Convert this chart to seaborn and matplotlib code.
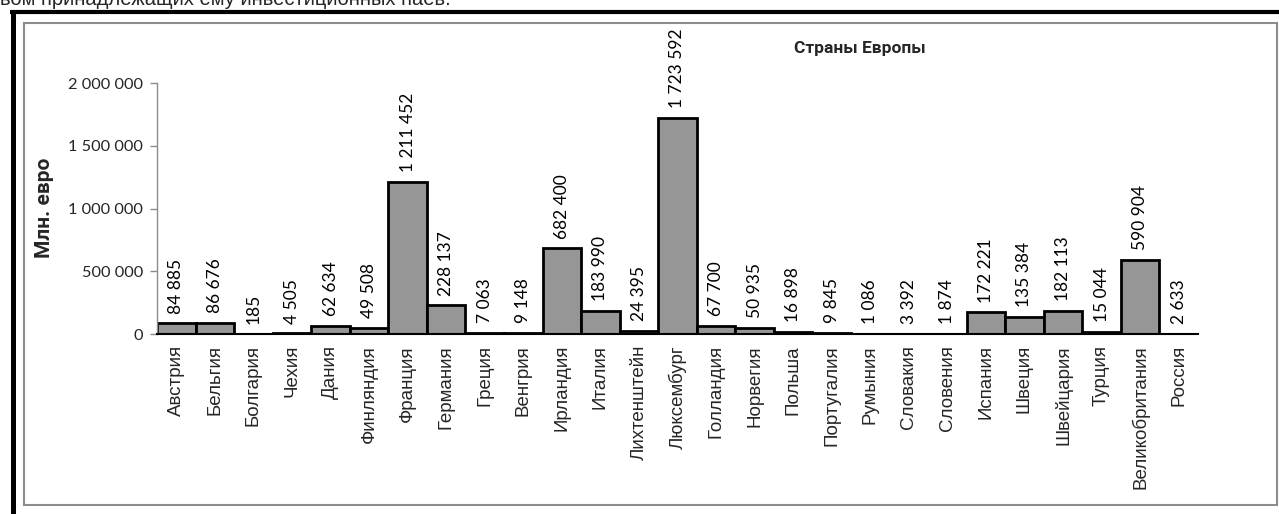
import matplotlib
matplotlib.use("Agg")
import matplotlib.pyplot as plt
from matplotlib.lines import Line2D
from matplotlib.patches import Rectangle
from matplotlib.ticker import FixedLocator
import seaborn as sns
import pandas as pd

# Net assets of investment funds by European country, mln euro
countries = [
    "Австрия", "Бельгия", "Болгария", "Чехия", "Дания", "Финляндия",
    "Франция", "Германия", "Греция", "Венгрия", "Ирландия", "Италия",
    "Лихтенштейн", "Люксембург", "Голландия", "Норвегия", "Польша",
    "Португалия", "Румыния", "Словакия", "Словения", "Испания", "Швеция",
    "Швейцария", "Турция", "Великобритания", "Россия",
]
values = [
    84885, 86676, 185, 4505, 62634, 49508,
    1211452, 228137, 7063, 9148, 682400, 183990,
    24395, 1723592, 67700, 50935, 16898,
    9845, 1086, 3392, 1874, 172221, 135384,
    182113, 15044, 590904, 2633,
]
y_ticks = [0, 500000, 1000000, 1500000, 2000000]

title = "Страны Европы"
y_label = "Млн. евро"
header = "вом принадлежащих ему инвестиционных паев."


def spaced(v):
    return f"{v:,}".replace(",", " ")


df = pd.DataFrame({"country": countries, "value": values})

W, H = 1279, 514
sns.set_style("white")
plt.rcParams["font.family"] = ["Lato", "DejaVu Sans"]

fig = plt.figure(figsize=(W / 100, H / 100), dpi=100)
ax = fig.add_axes([157 / W, 1 - 334 / H, (1198 - 157) / W, (334 - 83) / H])

sns.barplot(data=df, x="country", y="value", order=countries,
            color="#969696", saturation=1, width=1.0,
            edgecolor="black", linewidth=2, ax=ax)

ax.set_ylim(0, 2000000)
ax.set_xlim(-0.5, len(countries) - 0.5)

# Value labels above bars
ax.bar_label(ax.containers[0], labels=[spaced(v) for v in values],
             rotation=90, padding=7, fontsize=12.5, family=["Lato", "DejaVu Sans"],
             color="black")

ax.yaxis.set_major_locator(FixedLocator(y_ticks))
ax.set_yticklabels([spaced(v) for v in y_ticks], fontsize=11.8,
                   family=["Lato", "DejaVu Sans"])
ax.tick_params(axis="y", direction="out", length=5, width=1, color="#8c8c8c",
               pad=5, left=True)
ax.tick_params(axis="x", length=0, pad=8)
ax.set_xticks(range(len(countries)))
ax.set_xticklabels(countries, rotation=90, fontsize=13.5,
                   family=["Liberation Sans", "DejaVu Sans"], va="top", ha="center")
ax.set_xlabel("")
ax.set_ylabel("")

for side in ("top", "right"):
    ax.spines[side].set_visible(False)
ax.spines["left"].set_color("#8c8c8c")
ax.spines["left"].set_linewidth(1)
ax.spines["bottom"].set_color("black")
ax.spines["bottom"].set_linewidth(1.5)

fig.text(860 / W, 1 - 48 / H, title, ha="center", va="center",
         fontsize=12.5, fontweight="bold", family=["Roboto", "DejaVu Sans"])
fig.text(45 / W, 1 - 208 / H, y_label, ha="center", va="center", rotation=90,
         fontsize=15, fontweight="bold", family=["Roboto", "DejaVu Sans"])

# Text line running above the frame
fig.text(0 / W, 1 - 5 / H, header, ha="left", va="baseline", fontsize=14.5,
         family=["Liberation Sans", "DejaVu Sans"])

# Chart frame: inner grey border and thick black outer edges
fig.add_artist(Rectangle((24 / W, 1 - 505 / H), (1277 - 24) / W, (505 - 23) / H,
                         transform=fig.transFigure, fill=False,
                         edgecolor="#8c8c8c", linewidth=1.5))
fig.add_artist(Line2D([12.5 / W, 12.5 / W], [1 - 10 / H, 0],
                      transform=fig.transFigure, color="black", linewidth=3.6,
                      solid_capstyle="butt"))
fig.add_artist(Line2D([10 / W, 1], [1 - 11.5 / H, 1 - 11.5 / H],
                      transform=fig.transFigure, color="black", linewidth=3,
                      solid_capstyle="butt"))

fig.savefig("out.png", dpi=100)
